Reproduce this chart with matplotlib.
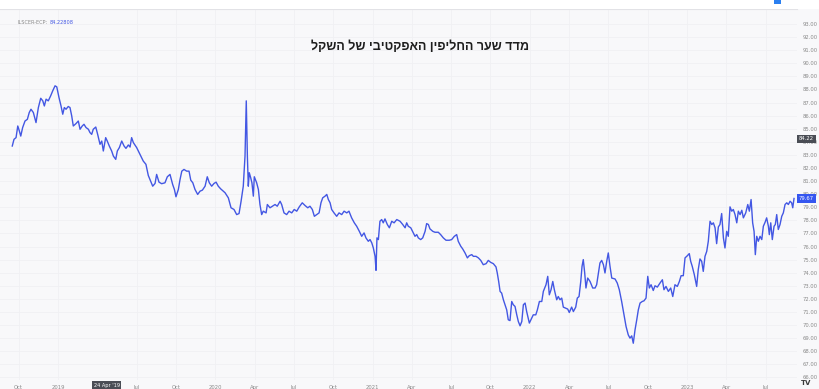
"""
Effective exchange rate index of the shekel (ILSCER-ECP), TradingView-style.
"""

import matplotlib

matplotlib.use("Agg")
import matplotlib.pyplot as plt
from matplotlib.patches import Rectangle

TITLE = "מדד שער החליפין האפקטיבי של השקל"
SYMBOL = "ILSCER-ECP:"
LEGEND_VALUE = "84.22808"
CROSS_DATE_LABEL = "24 Apr '19"
CROSS_DATE = 2019.31
CROSS_PRICE = 84.22

# decimal years of the observations
date_years = [
    2018.709, 2018.720, 2018.733, 2018.744, 2018.754, 2018.763, 2018.775, 2018.790, 2018.805, 2018.817,
    2018.828, 2018.843, 2018.860, 2018.875, 2018.890, 2018.903, 2018.913, 2018.924, 2018.938, 2018.953,
    2018.966, 2018.981, 2018.992, 2019.006, 2019.019, 2019.030, 2019.040, 2019.051, 2019.065, 2019.076,
    2019.087, 2019.097, 2019.114, 2019.129, 2019.140, 2019.154, 2019.165, 2019.178, 2019.193, 2019.203,
    2019.214, 2019.224, 2019.240, 2019.252, 2019.267, 2019.278, 2019.288, 2019.303, 2019.313, 2019.326,
    2019.341, 2019.352, 2019.367, 2019.377, 2019.390, 2019.405, 2019.420, 2019.432, 2019.447, 2019.458,
    2019.468, 2019.479, 2019.500, 2019.521, 2019.542, 2019.559, 2019.574, 2019.589, 2019.602, 2019.617,
    2019.627, 2019.642, 2019.659, 2019.680, 2019.695, 2019.712, 2019.729, 2019.740, 2019.750, 2019.765,
    2019.776, 2019.787, 2019.801, 2019.818, 2019.833, 2019.844, 2019.857, 2019.871, 2019.888, 2019.903,
    2019.918, 2019.935, 2019.949, 2019.962, 2019.977, 2019.992, 2020.005, 2020.019, 2020.034, 2020.062,
    2020.083, 2020.100, 2020.119, 2020.136, 2020.151, 2020.164, 2020.178, 2020.189, 2020.197, 2020.204,
    2020.210, 2020.216, 2020.225, 2020.233, 2020.242, 2020.248, 2020.263, 2020.274, 2020.284, 2020.295,
    2020.305, 2020.323, 2020.331, 2020.348, 2020.363, 2020.380, 2020.394, 2020.412, 2020.422, 2020.437,
    2020.454, 2020.469, 2020.486, 2020.502, 2020.518, 2020.534, 2020.553, 2020.571, 2020.588, 2020.602,
    2020.617, 2020.630, 2020.645, 2020.660, 2020.672, 2020.683, 2020.698, 2020.709, 2020.719, 2020.730,
    2020.740, 2020.755, 2020.772, 2020.787, 2020.804, 2020.819, 2020.836, 2020.850, 2020.867, 2020.884,
    2020.899, 2020.916, 2020.931, 2020.946, 2020.958, 2020.973, 2020.984, 2020.995, 2021.005, 2021.016,
    2021.022, 2021.028, 2021.037, 2021.047, 2021.058, 2021.068, 2021.079, 2021.094, 2021.107, 2021.122,
    2021.137, 2021.154, 2021.175, 2021.192, 2021.207, 2021.217, 2021.227, 2021.243, 2021.259, 2021.270,
    2021.281, 2021.291, 2021.306, 2021.319, 2021.334, 2021.344, 2021.355, 2021.365, 2021.383, 2021.397,
    2021.418, 2021.433, 2021.450, 2021.467, 2021.488, 2021.503, 2021.520, 2021.535, 2021.545, 2021.561,
    2021.573, 2021.588, 2021.603, 2021.615, 2021.631, 2021.641, 2021.658, 2021.673, 2021.688, 2021.704,
    2021.722, 2021.736, 2021.751, 2021.768, 2021.785, 2021.793, 2021.802, 2021.811, 2021.821, 2021.832,
    2021.842, 2021.853, 2021.863, 2021.874, 2021.885, 2021.895, 2021.906, 2021.917, 2021.927, 2021.938,
    2021.949, 2021.959, 2021.970, 2021.980, 2021.997, 2022.012, 2022.022, 2022.038, 2022.048, 2022.061,
    2022.076, 2022.086, 2022.103, 2022.114, 2022.124, 2022.135, 2022.146, 2022.156, 2022.171, 2022.181,
    2022.192, 2022.203, 2022.213, 2022.228, 2022.241, 2022.251, 2022.266, 2022.277, 2022.292, 2022.302,
    2022.313, 2022.324, 2022.332, 2022.340, 2022.349, 2022.357, 2022.368, 2022.383, 2022.400, 2022.415,
    2022.425, 2022.436, 2022.446, 2022.457, 2022.468, 2022.478, 2022.489, 2022.499, 2022.510, 2022.521,
    2022.542, 2022.556, 2022.569, 2022.584, 2022.599, 2022.612, 2022.626, 2022.637, 2022.648, 2022.658,
    2022.669, 2022.680, 2022.690, 2022.701, 2022.715, 2022.726, 2022.739, 2022.750, 2022.760, 2022.771,
    2022.785, 2022.796, 2022.811, 2022.828, 2022.843, 2022.853, 2022.866, 2022.881, 2022.896, 2022.909,
    2022.923, 2022.938, 2022.951, 2022.962, 2022.976, 2022.987, 2023.002, 2023.014, 2023.023, 2023.033,
    2023.046, 2023.061, 2023.071, 2023.082, 2023.093, 2023.103, 2023.114, 2023.125, 2023.135, 2023.146,
    2023.157, 2023.167, 2023.178, 2023.188, 2023.199, 2023.209, 2023.220, 2023.231, 2023.241, 2023.252,
    2023.262, 2023.273, 2023.284, 2023.294, 2023.305, 2023.316, 2023.326, 2023.337, 2023.348, 2023.358,
    2023.373, 2023.386, 2023.396, 2023.407, 2023.417, 2023.426, 2023.434, 2023.443, 2023.453, 2023.464,
    2023.475, 2023.485, 2023.496, 2023.506, 2023.517, 2023.523, 2023.532, 2023.542, 2023.553, 2023.561,
    2023.570, 2023.580, 2023.591, 2023.602, 2023.612, 2023.623, 2023.634, 2023.644, 2023.655, 2023.665,
    2023.672, 2023.680,
]

index_values = [
    83.68, 84.19, 84.32, 85.21, 84.83, 84.44, 85.09, 85.59, 85.72, 86.24,
    86.49, 86.24, 85.47, 86.62, 87.33, 87.13, 86.74, 87.26, 87.13, 87.51,
    87.89, 88.28, 88.20, 87.39, 86.74, 86.11, 86.62, 86.49, 86.70, 86.62,
    85.98, 85.21, 85.39, 85.59, 84.96, 85.21, 85.34, 85.09, 84.96, 84.71,
    84.57, 84.96, 85.13, 84.57, 83.81, 84.06, 83.30, 84.32, 84.06, 83.68,
    83.30, 82.91, 82.66, 83.30, 83.56, 84.06, 83.68, 83.50, 83.76, 83.60,
    84.32, 83.94, 83.56, 83.04, 82.53, 82.28, 81.43, 81.00, 80.61, 80.82,
    81.51, 80.92, 80.80, 80.87, 81.33, 81.51, 80.74, 80.36, 79.80, 80.36,
    81.13, 81.76, 81.89, 81.76, 81.76, 81.07, 80.87, 80.36, 79.98, 80.23,
    80.31, 80.61, 81.33, 80.87, 80.61, 80.82, 80.92, 80.61, 80.41, 80.11,
    79.72, 78.96, 78.83, 78.44, 78.52, 79.46, 80.61, 82.91, 87.13, 82.91,
    80.61, 81.64, 81.26, 80.87, 79.85, 81.33, 80.87, 80.36, 79.21, 78.44,
    78.70, 78.57, 79.21, 78.96, 79.08, 79.21, 79.08, 79.46, 79.21, 78.57,
    78.44, 78.70, 78.57, 78.83, 78.70, 79.03, 79.34, 79.13, 78.96, 79.08,
    78.83, 78.31, 78.44, 78.57, 79.34, 79.72, 79.85, 79.98, 79.59, 79.34,
    78.83, 78.57, 78.31, 78.57, 78.44, 78.70, 78.57, 78.70, 78.19, 77.81,
    77.55, 77.16, 76.78, 77.04, 76.66, 76.40, 76.53, 76.28, 75.89, 75.25,
    74.18, 76.66, 76.53, 77.93, 78.06, 77.81, 78.11, 77.68, 77.43, 77.93,
    77.81, 78.06, 77.93, 77.68, 77.43, 77.81, 77.55, 77.43, 77.04, 76.78,
    76.91, 76.66, 76.53, 76.66, 77.16, 77.75, 77.68, 77.35, 77.16, 77.09,
    77.09, 76.91, 76.66, 76.48, 76.48, 76.53, 76.78, 76.91, 76.40, 76.02,
    75.82, 75.51, 75.13, 75.30, 75.38, 75.25, 75.25, 75.13, 74.94, 74.61,
    74.69, 74.94, 74.79, 74.69, 74.44, 73.98, 73.33, 72.57, 72.44, 71.93,
    71.55, 71.16, 70.40, 70.34, 71.80, 71.55, 71.42, 70.78, 70.27, 69.94,
    70.27, 71.55, 71.68, 71.03, 70.15, 70.53, 70.78, 70.78, 71.16, 71.80,
    71.80, 72.57, 73.08, 73.72, 72.31, 72.70, 73.33, 72.70, 71.93, 72.18,
    71.93, 72.06, 71.37, 71.29, 71.22, 70.96, 71.37, 71.03, 71.37, 72.06,
    72.18, 73.33, 74.48, 75.00, 73.98, 72.83, 73.59, 73.33, 72.83, 72.83,
    73.08, 73.98, 74.74, 74.94, 74.61, 73.98, 74.87, 75.51, 74.48, 73.59,
    73.52, 73.21, 72.70, 71.80, 70.78, 69.89, 69.25, 69.00, 69.17, 68.61,
    69.63, 70.40, 71.16, 71.68, 71.80, 71.85, 72.06, 73.72, 72.83, 73.08,
    72.64, 73.00, 72.90, 73.21, 73.46, 72.70, 72.95, 72.57, 72.83, 72.18,
    73.08, 72.95, 73.33, 73.77, 73.77, 75.13, 75.30, 75.46, 74.87, 74.48,
    73.85, 72.95, 74.23, 75.05, 74.87, 74.10, 75.25, 75.63, 76.40, 77.93,
    77.68, 77.81, 77.43, 76.22, 77.50, 77.68, 78.52, 76.66, 75.89, 77.16,
    76.78, 79.03, 78.70, 78.83, 78.44, 77.81, 78.70, 78.44, 78.77, 78.19,
    78.57, 79.21, 78.70, 79.59, 77.81, 77.16, 75.38, 76.78, 76.40, 76.78,
    76.53, 77.55, 77.85, 78.19, 77.55, 76.91, 77.81, 76.53, 77.55, 77.68,
    78.44, 77.30, 77.68, 78.31, 78.57, 79.21, 79.34, 79.21, 79.46, 79.34,
    78.96, 79.67,
]

tick_years = [2018, 2019, 2019, 2019, 2020, 2020, 2020, 2020, 2021, 2021,
              2021, 2021, 2022, 2022, 2022, 2022, 2023, 2023, 2023]
tick_months = [10, 1, 7, 10, 1, 4, 7, 10, 1, 4, 7, 10, 1, 4, 7, 10, 1, 4, 7]
tick_labels = ["Oct", "2019", "Jul", "Oct", "2020", "Apr", "Jul", "Oct",
               "2021", "Apr", "Jul", "Oct", "2022", "Apr", "Jul", "Oct",
               "2023", "Apr", "Jul"]
price_ticks = list(range(66, 94))

LINE_BLUE = "#4357e3"
BG = "#f8f8fa"
W, H = 819, 389


def main() -> None:
    fig = plt.figure(figsize=(W / 100, H / 100), dpi=100, facecolor=BG)
    # white strip above the pane and the little blue mark at the top right
    fig.patches.append(Rectangle((0, 1 - 9 / H), 1, 9 / H, transform=fig.transFigure,
                                 facecolor="white", edgecolor="none", zorder=0))
    fig.patches.append(Rectangle((774 / W, 1 - 4 / H), 7 / W, 4 / H, transform=fig.transFigure,
                                 facecolor="#2a7ff0", edgecolor="none", zorder=1))

    ax = fig.add_axes([0, 9 / H, 797 / W, 371 / H])
    ax.set_facecolor(BG)
    ax.plot(date_years, index_values, color=LINE_BLUE, lw=1.0, solid_joinstyle="round")

    ax.set_xlim(2018.631, 2023.699)
    ax.set_ylim(65.80, 94.15)

    ax.set_xticks([y + (m - 1) / 12 for y, m in zip(tick_years, tick_months)])
    ax.set_xticklabels(tick_labels)
    ax.yaxis.tick_right()
    ax.set_yticks(price_ticks)
    ax.set_yticklabels([f"{p:.2f}" for p in price_ticks])
    ax.tick_params(axis="both", length=0, labelsize=3.8, labelcolor="#8a8a8a")
    ax.tick_params(axis="y", pad=4)
    ax.tick_params(axis="x", pad=3.5)
    ax.grid(True, color="#f0f0f3", lw=0.6)
    ax.set_axisbelow(True)
    for side in ("left", "bottom", "right"):
        ax.spines[side].set_visible(False)
    ax.spines["top"].set_color("#e2e2e6")
    ax.spines["top"].set_linewidth(0.8)

    # last value and crosshair labels on the scales
    ytr = ax.get_yaxis_transform()
    ax.text(1.002, index_values[-1], f"{index_values[-1]:.2f}", transform=ytr,
            ha="left", va="center", fontsize=3.8, color="white", clip_on=False,
            bbox=dict(boxstyle="square,pad=0.35", facecolor="#3556f0", edgecolor="none"))
    ax.text(1.002, CROSS_PRICE, f"{CROSS_PRICE:.2f}", transform=ytr,
            ha="left", va="center", fontsize=3.8, color="white", clip_on=False,
            bbox=dict(boxstyle="square,pad=0.35", facecolor="#4a4d55", edgecolor="none"))
    xtr = ax.get_xaxis_transform()
    ax.text(CROSS_DATE, -0.0135, CROSS_DATE_LABEL, transform=xtr,
            ha="center", va="center", fontsize=3.6, color="white", clip_on=False,
            bbox=dict(boxstyle="square,pad=0.25", facecolor="#4a4d55", edgecolor="none"))

    # symbol legend and title
    fig.text(17 / W, 1 - 22 / H, SYMBOL, fontsize=3.6, color="#8a8a8a", va="center")
    fig.text(50 / W, 1 - 22 / H, LEGEND_VALUE, fontsize=3.6, color=LINE_BLUE, va="center")
    # matplotlib lays glyphs out left to right, so feed the Hebrew in visual order
    fig.text(420 / W, 1 - 47 / H, TITLE[::-1], fontsize=9, fontweight="bold",
             family=["Liberation Sans", "DejaVu Sans"], color="#1e1e1e",
             ha="center", va="center")
    fig.text(806 / W, 1 - 383 / H, "TV", fontsize=5, fontweight="bold",
             color="#3a3a3a", ha="center", va="center")

    fig.savefig("out.png", dpi=100, facecolor=fig.get_facecolor())


if __name__ == "__main__":
    main()
